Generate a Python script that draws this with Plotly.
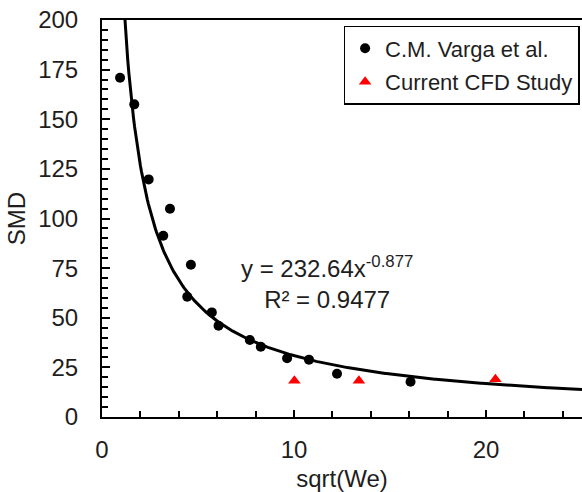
import numpy as np
import plotly.graph_objects as go

# Data
varga_x = [0.94, 1.68, 2.43, 3.19, 3.54, 4.44, 4.63, 5.72, 6.07, 7.70, 8.27, 9.64, 10.78, 12.24, 16.07]
varga_y = [170.9, 157.5, 119.7, 91.3, 104.9, 60.6, 76.7, 52.7, 46.0, 38.8, 35.4, 29.6, 28.9, 21.8, 17.8]
cfd_x = [10.02, 13.38, 20.49]
cfd_y = [18.3, 18.3, 19.0]

# Power-law trendline shown on the chart: y = 232.64 x^-0.877
fit_a = 232.64
fit_b = -0.877
fit_r2 = 0.9477
fit_x = np.linspace(1.1, 25, 400)
fit_y = fit_a * fit_x ** fit_b

FONT = "Arial, Liberation Sans, sans-serif"
TXT = "#1e1e1e"

fig = go.Figure()
fig.add_trace(go.Scatter(x=fit_x, y=fit_y, mode="lines",
                         line=dict(color="black", width=3),
                         showlegend=False, hoverinfo="skip"))
fig.add_trace(go.Scatter(x=varga_x, y=varga_y, mode="markers",
                         name="C.M. Varga et al.", legendgroup="a",
                         marker=dict(symbol="circle", size=10, color="black")))
fig.add_trace(go.Scatter(x=cfd_x, y=cfd_y, mode="markers",
                         name="Current CFD Study", legendgroup="b",
                         marker=dict(symbol="triangle-up", size=11, color="#FF0000")))

fig.add_annotation(x=0.469, y=0.34, xref="paper", yref="paper",
                   text=f"y = {fit_a}x<sup>{fit_b}</sup><br>R² = {fit_r2}",
                   showarrow=False, align="center", xanchor="center", yanchor="middle",
                   font=dict(family=FONT, size=24, color=TXT))

fig.update_layout(
    width=582, height=492,
    margin=dict(l=102, r=0, t=20, b=75),
    paper_bgcolor="white", plot_bgcolor="white",
    font=dict(family=FONT, size=24, color=TXT),
    showlegend=True,
    legend=dict(x=0.995, y=0.985, xanchor="right", yanchor="top",
                bordercolor="black", borderwidth=1.5, bgcolor="white",
                font=dict(family=FONT, size=22, color=TXT),
                traceorder="grouped", tracegroupgap=2),
    xaxis=dict(range=[0, 25], dtick=10, tick0=0,
               showline=True, linecolor="black", linewidth=2, mirror=True,
               ticks="inside", ticklen=7, tickwidth=1.5, tickcolor="black",
               minor=dict(dtick=2, ticks="inside", ticklen=6, tickwidth=1.5, tickcolor="black"),
               showgrid=False, zeroline=False, ticklabelstandoff=10,
               title=dict(text="sqrt(We)", font=dict(size=24, color=TXT), standoff=10),
               tickfont=dict(size=24, color=TXT)),
    yaxis=dict(range=[0, 200], dtick=25, tick0=0,
               showline=True, linecolor="black", linewidth=2,
               ticks="inside", ticklen=8, tickwidth=1.5, tickcolor="black",
               minor=dict(dtick=5, ticks="inside", ticklen=6, tickwidth=1.5, tickcolor="black"),
               showgrid=False, zeroline=False, ticklabelstandoff=17,
               title=dict(text="SMD", font=dict(size=24, color=TXT), standoff=6),
               tickfont=dict(size=24, color=TXT)),
)

fig.write_html("out.html")
